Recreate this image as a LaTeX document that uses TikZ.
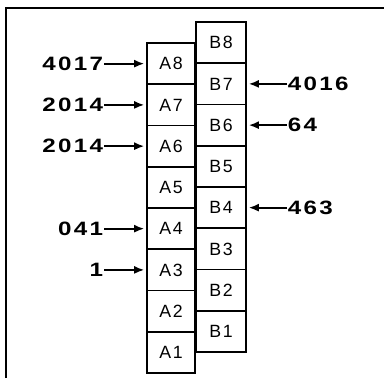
\documentclass[tikz,border=0pt]{standalone}
\usepackage{fontspec}
\setmainfont{Liberation Sans}
\newfontfamily\numfont{Liberation Sans}[FakeStretch=1.25, LetterSpace=12]
\newfontfamily\cellfont{Liberation Sans}[LetterSpace=10]
\usepackage{tikz}
\usetikzlibrary{positioning,arrows.meta}

\begin{document}
\begin{tikzpicture}[x=0.75pt, y=-0.75pt,
  acell/.style={rectangle, draw, line width=1.2pt, inner sep=0pt,
                minimum width=36pt, minimum height=30.9pt,
                font=\cellfont\fontsize{13.3}{15}\selectfont},
  bcell/.style={acell, minimum width=37.5pt},
  lbl/.style={font=\numfont\bfseries\fontsize{14.5}{16}\selectfont, inner sep=0.5pt},
  ar/.style={-{Latex[length=7.5pt, width=6pt]}, line width=1.3pt, shorten >=1.5pt}
]
\useasboundingbox (0,0) rectangle (384,378);

% frame, cut off on right and bottom
\draw[line width=1.2pt] (6,378) -- (6,8) -- (384,8);

% the two columns of cells
\foreach \i in {1,...,8}
  \node[acell] (a\i) at (171, {352.4-(\i-1)*41.25}) {A\i};
\foreach \i in {1,...,8}
  \node[bcell] (b\i) at (221, {331.4-(\i-1)*41.25}) {B\i};

% inputs on the A side
\node[lbl, anchor=east] (la8) at (104, 0 |- a8) {4017};
\node[lbl, anchor=east] (la7) at (104, 0 |- a7) {2014};
\node[lbl, anchor=east] (la6) at (104, 0 |- a6) {2014};
\node[lbl, anchor=east] (la4) at (104, 0 |- a4) {041};
\node[lbl, anchor=east] (la3) at (104, 0 |- a3) {1};
\foreach \i in {8,7,6,4,3}
  \draw[ar] (la\i.east) -- (a\i.west);

% inputs on the B side
\node[lbl, anchor=west] (lb7) at (287, 0 |- b7) {4016};
\node[lbl, anchor=west] (lb6) at (287, 0 |- b6) {64};
\node[lbl, anchor=west] (lb4) at (287, 0 |- b4) {463};
\foreach \i in {7,6,4}
  \draw[ar] (lb\i.west) -- (b\i.east);

\end{tikzpicture}
\end{document}
